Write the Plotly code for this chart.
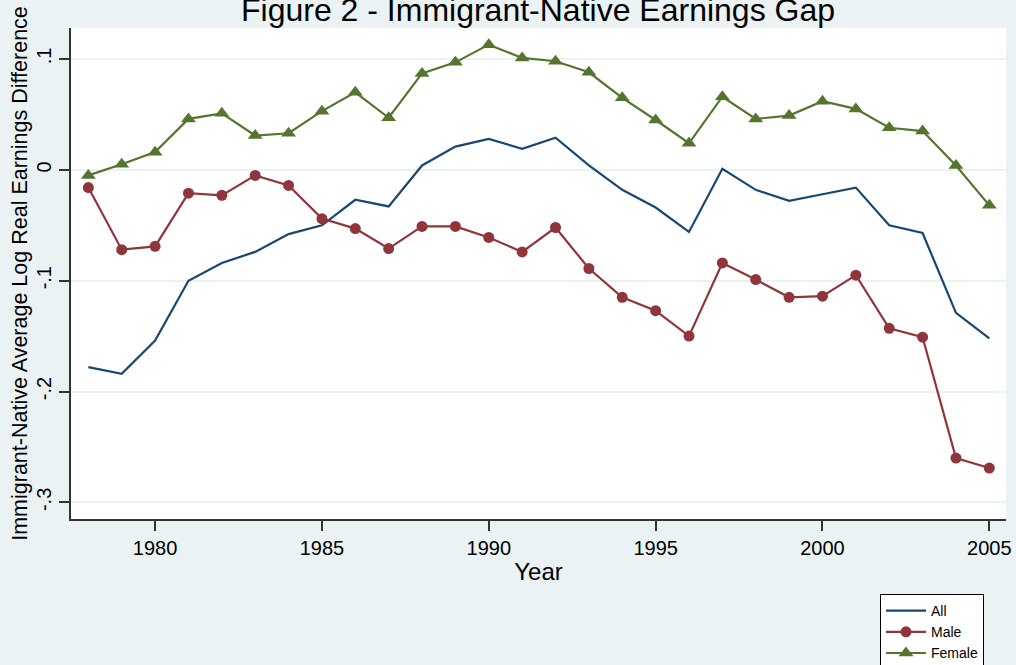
"""Figure 2 - Immigrant-Native Earnings Gap, Stata s2color look."""
import plotly.graph_objects as go

NAVY = "#1a476f"
MAROON = "#90353b"
FOREST = "#55752f"
BG = "#eaf2f3"
AXIS = "#333333"

years = list(range(1978, 2006))

gap_all = [-0.178, -0.184, -0.154, -0.100, -0.084, -0.074, -0.058, -0.050, -0.027, -0.033,
           0.004, 0.021, 0.028, 0.019, 0.029, 0.004, -0.018, -0.034, -0.056, 0.001,
           -0.018, -0.028, -0.022, -0.016, -0.050, -0.057, -0.129, -0.152]
gap_male = [-0.016, -0.072, -0.069, -0.021, -0.023, -0.005, -0.014, -0.044, -0.053, -0.071,
            -0.051, -0.051, -0.061, -0.074, -0.052, -0.089, -0.115, -0.127, -0.150, -0.084,
            -0.099, -0.115, -0.114, -0.095, -0.143, -0.151, -0.260, -0.269]
gap_female = [-0.005, 0.005, 0.016, 0.046, 0.051, 0.031, 0.033, 0.053, 0.070, 0.047,
              0.087, 0.097, 0.113, 0.101, 0.098, 0.088, 0.065, 0.045, 0.024, 0.066,
              0.046, 0.049, 0.062, 0.055, 0.038, 0.035, 0.004, -0.032]

y_ticks = [-0.3, -0.2, -0.1, 0.0, 0.1]
y_labels = ["-.3", "-.2", "-.1", "0", ".1"]
x_ticks = [1980, 1985, 1990, 1995, 2000, 2005]

fig = go.Figure()
fig.add_trace(go.Scatter(x=years, y=gap_all, mode="lines", name="All",
                         line=dict(color=NAVY, width=2.2)))
fig.add_trace(go.Scatter(x=years, y=gap_male, mode="lines+markers", name="Male",
                         line=dict(color=MAROON, width=2.2),
                         marker=dict(symbol="circle", size=11, color=MAROON)))
fig.add_trace(go.Scatter(x=years, y=gap_female, mode="lines+markers", name="Female",
                         line=dict(color=FOREST, width=2.2),
                         marker=dict(symbol="triangle-up", size=13, color=FOREST)))

fig.update_layout(
    width=1016, height=665,
    paper_bgcolor=BG, plot_bgcolor="white",
    font=dict(family="Liberation Sans, Arial, sans-serif", size=20, color="#000000"),
    margin=dict(l=71, r=10, t=28, b=146, autoexpand=False),
    title=dict(text="Figure 2 - Immigrant-Native Earnings Gap",
               font=dict(family="Liberation Sans, Arial, sans-serif", size=32, color="#000000"),
               x=538 / 1016, xanchor="center", y=1 - 10 / 665, yanchor="middle"),
    xaxis=dict(range=[1977.48, 2005.5], tickvals=x_ticks, ticks="outside", ticklen=10,
               tickwidth=1.5, tickcolor=AXIS, showline=True, linecolor=AXIS, linewidth=1.5,
               showgrid=False, zeroline=False, automargin=False,
               title=dict(text="Year", standoff=5)),
    yaxis=dict(range=[-0.315, 0.128], tickvals=y_ticks, ticktext=y_labels, tickangle=-90,
               ticks="outside", ticklen=10, tickwidth=1.5, tickcolor=AXIS,
               ticklabelstandoff=0,
               showline=True, linecolor=AXIS, linewidth=1.5, automargin=False,
               showgrid=True, gridcolor=BG, gridwidth=2, zeroline=False,
               title=dict(text="Immigrant-Native Average Log Real Earnings Difference",
                          font=dict(size=21.5), standoff=0)),
    legend=dict(x=(880 - 71) / 935, y=-75 / 491, xanchor="left", yanchor="top",
                bgcolor="white", bordercolor="#000000", borderwidth=1,
                font=dict(size=14), tracegroupgap=0, itemwidth=40),
    showlegend=True,
)

# the page body has an 8px default margin; drop it so the figure sits at (0, 0)
fig.write_html("out.html", config={"displayModeBar": False},
               post_script="document.body.style.margin = '0';")
